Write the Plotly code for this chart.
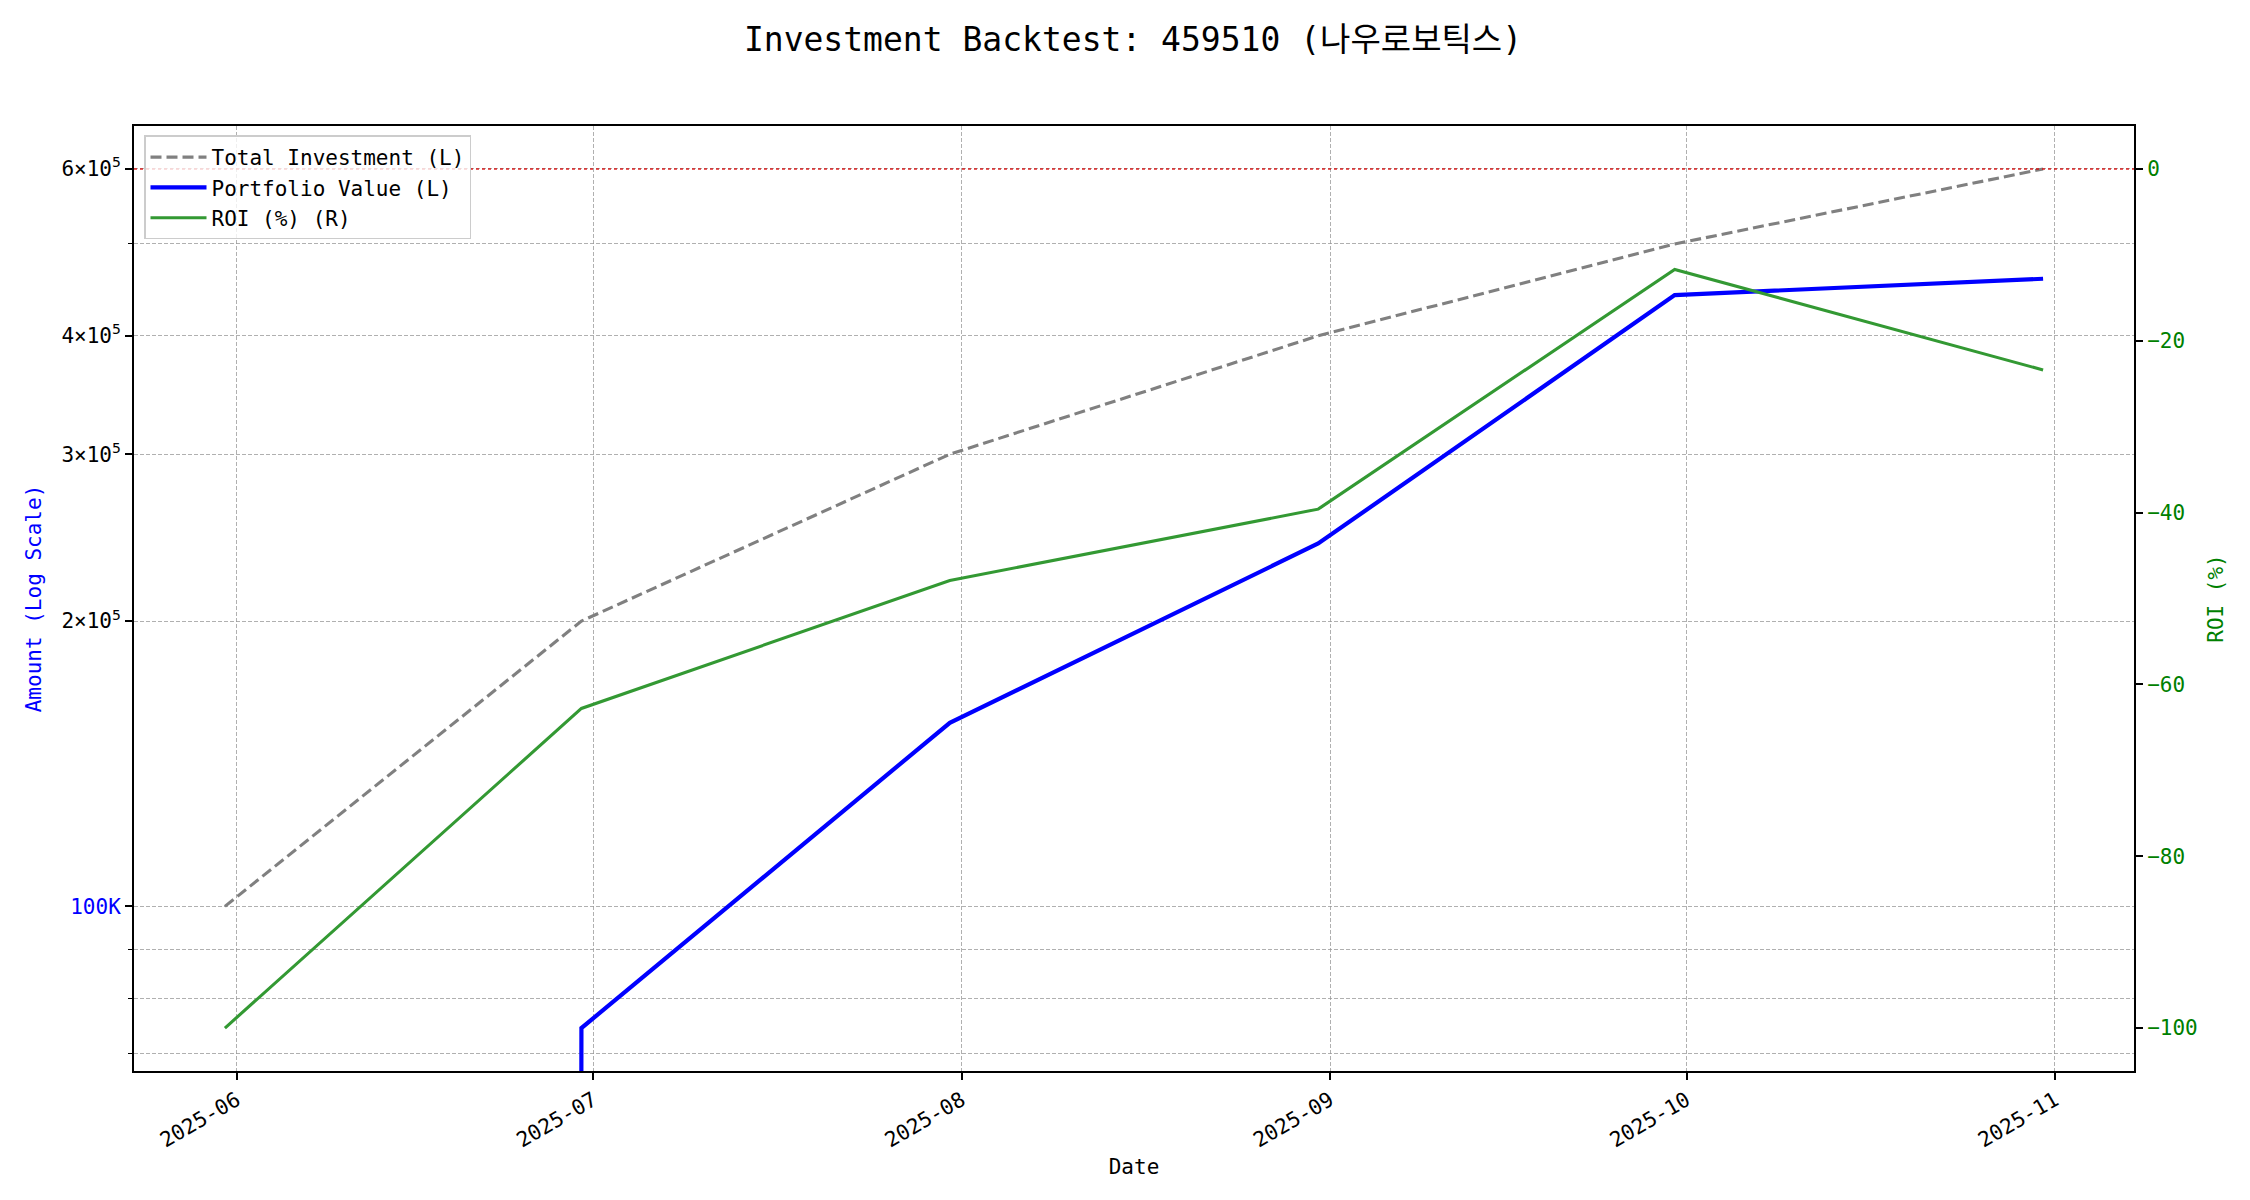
import numpy as np
import pandas as pd
import plotly.graph_objects as go

# ---------------- data ----------------
dates = ["2025-05-31", "2025-06-30", "2025-07-31", "2025-08-31", "2025-09-30", "2025-10-31"]
total_investment = [100000, 200000, 300000, 400000, 500000, 600000]
portfolio_value = [0, 74400, 156200, 241500, 441600, 459500]
roi_pct = [-100.0, -62.8, -47.9, -39.6, -11.7, -23.4]

x_tick_vals = ["2025-06-01", "2025-07-01", "2025-08-01", "2025-09-01", "2025-10-01", "2025-11-01"]
x_tick_text = ["2025-06", "2025-07", "2025-08", "2025-09", "2025-10", "2025-11"]
left_tick_vals = [100000, 200000, 300000, 400000, 600000]
left_tick_text = ['<span style="color:blue">100K</span>',
                  "2×10<sup>5</sup>", "3×10<sup>5</sup>",
                  "4×10<sup>5</sup>", "6×10<sup>5</sup>"]
left_minor_vals = [70000, 80000, 90000, 500000]
roi_tick_vals = [0, -20, -40, -60, -80, -100]
roi_tick_text = ["0", "−20", "−40", "−60", "−80", "−100"]

title_text = "Investment Backtest: 459510 (나우로보틱스)"

FONT = "DejaVu Sans Mono, Noto Sans CJK KR, monospace"
GRID = "rgba(150,150,150,0.75)"

# ---------------- ranges (matplotlib-like 5% margins) ----------------
dt = pd.to_datetime(dates)
span = dt.max() - dt.min()
x_range = [dt.min() - 0.05 * span, dt.max() + 0.05 * span]

pos_vals = [v for v in total_investment + portfolio_value if v > 0]
lo, hi = np.log10(min(pos_vals)), np.log10(max(pos_vals))
y_range = [lo - 0.05 * (hi - lo), hi + 0.05 * (hi - lo)]
r_lo, r_hi = min(roi_pct + [0]), max(roi_pct + [0])
y2_range = [r_lo - 0.05 * (r_hi - r_lo), r_hi + 0.05 * (r_hi - r_lo)]

# non-positive values are clipped like matplotlib's log scale
pv_plot = [v if v > 0 else 1e-300 for v in portfolio_value]

fig = go.Figure()
fig.add_trace(go.Scatter(x=dates, y=total_investment, mode="lines", name="Total Investment (L)",
                         line=dict(color="gray", width=3.1, dash="11px,5px"), yaxis="y"))
fig.add_trace(go.Scatter(x=dates, y=pv_plot, mode="lines", name="Portfolio Value (L)",
                         line=dict(color="blue", width=4.2), yaxis="y"))
fig.add_trace(go.Scatter(x=dates, y=roi_pct, mode="lines", name="ROI (%) (R)",
                         line=dict(color="rgb(51,153,51)", width=3.1), yaxis="y2"))

fig.add_shape(type="line", xref="paper", x0=0, x1=1, yref="y2", y0=0, y1=0,
              line=dict(color="rgba(220,0,0,0.85)", width=1.6, dash="dot"), layer="above")

fig.update_layout(
    width=2250, height=1200,
    paper_bgcolor="white", plot_bgcolor="white",
    margin=dict(l=126, r=124, t=118, b=137),
    font=dict(family=FONT, size=21, color="black"),
    title=dict(text=title_text, x=0.5, xanchor="center", y=1 - 31 / 1200, yanchor="middle",
               font=dict(family=FONT, size=33, color="black")),
    showlegend=True,
    legend=dict(x=0.005, y=0.99, xanchor="left", yanchor="top",
                bgcolor="rgba(255,255,255,0.8)", bordercolor="#cccccc", borderwidth=1.5,
                font=dict(family=FONT, size=21, color="black"), itemwidth=56,
                traceorder="normal"),
    xaxis=dict(
        type="date", range=x_range,
        tickmode="array", tickvals=x_tick_vals, ticktext=x_tick_text,
        tickangle=-30, ticks="outside", ticklen=7, tickwidth=1.6, tickcolor="black",
        showline=True, linecolor="black", linewidth=2, mirror=True,
        showgrid=True, gridcolor=GRID, gridwidth=1, griddash="4px,2px",
        zeroline=False,
        tickfont=dict(family=FONT, size=21, color="black"),
        title=dict(text="Date", font=dict(family=FONT, size=21, color="black"), standoff=8),
    ),
    yaxis=dict(
        type="log", range=y_range,
        tickmode="array", tickvals=left_tick_vals, ticktext=left_tick_text,
        ticks="outside", ticklen=7, tickwidth=1.6, tickcolor="black",
        showline=True, linecolor="black", linewidth=2,
        showgrid=True, gridcolor=GRID, gridwidth=1, griddash="4px,2px",
        zeroline=False,
        minor=dict(tickmode="array", tickvals=left_minor_vals, ticks="outside", ticklen=4,
                   tickwidth=1.2, tickcolor="black", showgrid=True, gridcolor=GRID,
                   gridwidth=1, griddash="4px,2px"),
        tickfont=dict(family=FONT, size=21, color="black"),
        title=dict(text="Amount (Log Scale)", font=dict(family=FONT, size=21, color="blue"), standoff=14),
    ),
    yaxis2=dict(
        overlaying="y", side="right", range=y2_range,
        tickmode="array", tickvals=roi_tick_vals, ticktext=roi_tick_text,
        ticks="outside", ticklen=7, tickwidth=1.6, tickcolor="black",
        showline=True, linecolor="black", linewidth=2,
        showgrid=False, zeroline=False,
        tickfont=dict(family=FONT, size=21, color="green"),
        title=dict(text="ROI (%)", font=dict(family=FONT, size=21, color="green"), standoff=12),
    ),
)

fig.write_html("out.html")
